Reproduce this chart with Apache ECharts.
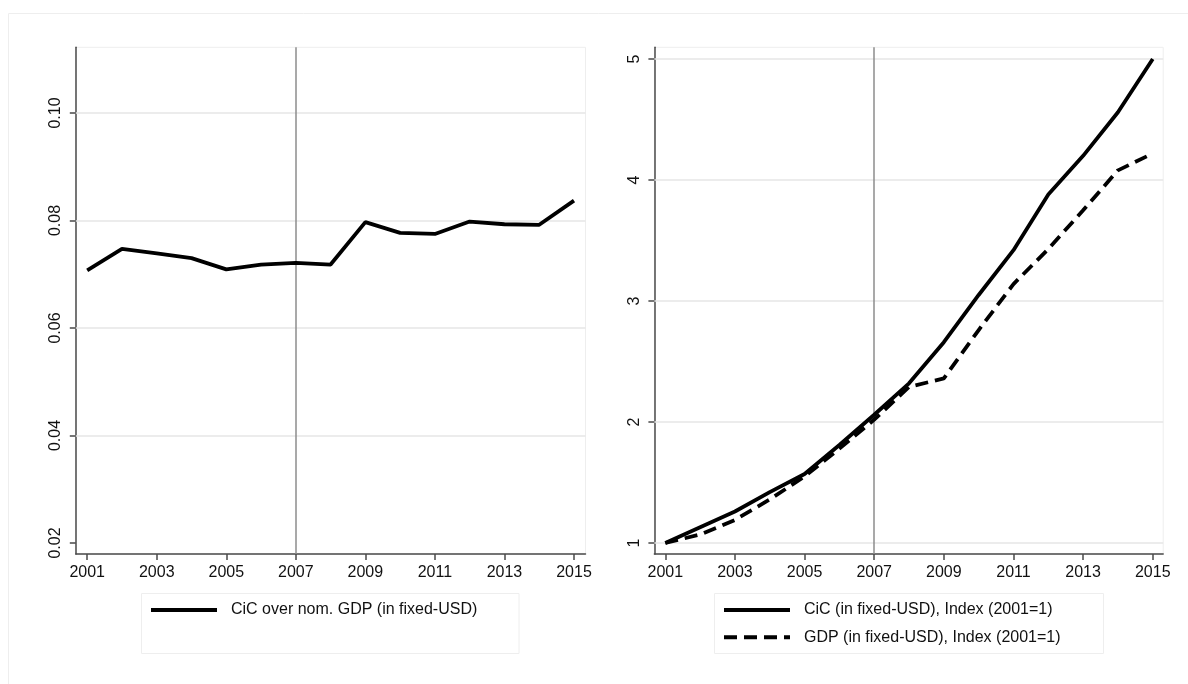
<!DOCTYPE html>
<html>
<head>
<meta charset="utf-8">
<script src="https://cdn.jsdelivr.net/npm/echarts@6/dist/echarts.min.js"></script>
<style>
  html, body { margin: 0; padding: 0; background: #ffffff; }
  #chart { width: 1188px; height: 684px; }
</style>
</head>
<body>
<div id="chart"></div>
<script>
// Years on the horizontal axis
const years = [2001, 2002, 2003, 2004, 2005, 2006, 2007, 2008, 2009, 2010, 2011, 2012, 2013, 2014, 2015];

// Left panel: currency in circulation relative to nominal GDP
const cicShare = [0.0707, 0.0747, 0.0739, 0.0730, 0.0709, 0.0718, 0.0721, 0.0718, 0.0797, 0.0777, 0.0775, 0.0798, 0.0793, 0.0792, 0.0837];

// Right panel: indices with 2001 = 1
const cicIndex = [1.00, 1.13, 1.26, 1.42, 1.57, 1.81, 2.06, 2.32, 2.66, 3.05, 3.42, 3.88, 4.20, 4.56, 5.00];
const gdpIndex = [1.00, 1.07, 1.19, 1.36, 1.55, 1.78, 2.02, 2.29, 2.36, 2.76, 3.14, 3.43, 3.75, 4.08, 4.22];

// Tick labels
const xTicks = [2001, 2003, 2005, 2007, 2009, 2011, 2013, 2015];
const leftYTicks = [0.02, 0.04, 0.06, 0.08, 0.10];
const rightYTicks = [1, 2, 3, 4, 5];
const leftGridLines = [0.04, 0.06, 0.08, 0.10];
const rightGridLines = [1, 2, 3, 4, 5];
const markYear = 2007;

// Legend labels
const nameShare = 'CiC over nom. GDP (in fixed-USD)';
const nameCic = 'CiC (in fixed-USD), Index (2001=1)';
const nameGdp = 'GDP (in fixed-USD), Index (2001=1)';

const FONT = "'Liberation Sans', Arial, Helvetica, sans-serif";
const AXIS_COLOR = '#4a4a4a';
const GRID_COLOR = '#e6e6e6';
const LINE_W = 3.8;

const pair = (xs, ys) => xs.map((x, i) => [x, ys[i]]);

function xAxisCfg(gridIndex, min, max) {
  return {
    type: 'value', gridIndex, min, max,
    axisLine: { show: true, lineStyle: { color: AXIS_COLOR, width: 1.5 } },
    axisTick: { show: true, customValues: xTicks, length: 6, lineStyle: { color: AXIS_COLOR, width: 1.5 } },
    axisLabel: { customValues: xTicks, formatter: v => String(v), color: '#111', fontSize: 16, fontFamily: FONT, margin: 11 },
    splitLine: { show: false }
  };
}

function yAxisCfg(gridIndex, min, max, ticks, fmt) {
  return {
    type: 'value', gridIndex, min, max,
    axisLine: { show: true, lineStyle: { color: AXIS_COLOR, width: 1.5 } },
    axisTick: { show: true, customValues: ticks, length: 6, lineStyle: { color: AXIS_COLOR, width: 1.5 } },
    axisLabel: { customValues: ticks, formatter: fmt, rotate: 90, color: '#111', fontSize: 16, fontFamily: FONT, margin: 12 },
    splitLine: { show: false }
  };
}

// Background guide lines (horizontal grid plus the 2007 marker) as a series without data
function guideSeries(axisIndex, gridValues) {
  return {
    type: 'line', xAxisIndex: axisIndex, yAxisIndex: axisIndex, data: [], z: 1, silent: true,
    markLine: {
      silent: true, symbol: 'none', label: { show: false }, animation: false,
      data: [
        ...gridValues.map(v => ({ yAxis: v, lineStyle: { color: GRID_COLOR, width: 1.5, type: 'solid' } })),
        { xAxis: markYear, lineStyle: { color: '#8c8c8c', width: 1.5, type: 'solid' } }
      ]
    }
  };
}

function legendCfg(names, left) {
  return {
    data: names, orient: 'vertical', left, top: 602, padding: 0,
    itemWidth: 66, itemHeight: 16, itemGap: 11.3,
    lineStyle: { width: 4 },
    // hide the marker that line legends draw in the middle of the sample
    itemStyle: { opacity: 0, color: 'rgba(0,0,0,0)', borderWidth: 0 },
    textStyle: { fontSize: 16, color: '#111', fontFamily: FONT, lineHeight: 16, padding: [0, 0, 0, 9] },
    selectedMode: false
  };
}

const chart = echarts.init(document.getElementById('chart'), null, { renderer: 'canvas' });

chart.setOption({
  backgroundColor: '#ffffff',
  animation: false,
  textStyle: { fontFamily: FONT },
  grid: [
    { left: 75.8, top: 47.3, width: 509.7, height: 506.7, show: true, borderColor: '#eeeeee', borderWidth: 1, backgroundColor: '#ffffff' },
    { left: 654.4, top: 47.3, width: 508.8, height: 506.7, show: true, borderColor: '#eeeeee', borderWidth: 1, backgroundColor: '#ffffff' }
  ],
  xAxis: [
    xAxisCfg(0, 2000.672, 2015.331),
    xAxisCfg(1, 2000.687, 2015.30)
  ],
  yAxis: [
    yAxisCfg(0, 0.01795, 0.11222, leftYTicks, v => v.toFixed(2)),
    yAxisCfg(1, 0.909, 5.097, rightYTicks, v => String(Math.round(v)))
  ],
  legend: [
    legendCfg([nameShare], 149),
    legendCfg([nameCic, nameGdp], 722)
  ],
  graphic: [
    // outer frame
    { type: 'rect', shape: { x: 8.5, y: 13.5, width: 1400, height: 800 }, style: { fill: 'none', stroke: '#eeeeee', lineWidth: 1 }, silent: true, z: -10 },
    // legend frames
    { type: 'rect', shape: { x: 141.5, y: 593.5, width: 377.5, height: 60 }, style: { fill: 'none', stroke: '#eeeeee', lineWidth: 1 }, silent: true },
    { type: 'rect', shape: { x: 714.5, y: 593.5, width: 389, height: 60 }, style: { fill: 'none', stroke: '#eeeeee', lineWidth: 1 }, silent: true }
  ],
  series: [
    guideSeries(0, leftGridLines),
    guideSeries(1, rightGridLines),
    {
      name: nameShare, type: 'line', xAxisIndex: 0, yAxisIndex: 0, z: 5,
      data: pair(years, cicShare), showSymbol: false, symbol: 'none',
      lineStyle: { color: '#000', width: LINE_W }, itemStyle: { color: '#000' }
    },
    {
      name: nameCic, type: 'line', xAxisIndex: 1, yAxisIndex: 1, z: 5,
      data: pair(years, cicIndex), showSymbol: false, symbol: 'none',
      lineStyle: { color: '#000', width: LINE_W }, itemStyle: { color: '#000' }
    },
    {
      name: nameGdp, type: 'line', xAxisIndex: 1, yAxisIndex: 1, z: 5,
      data: pair(years, gdpIndex), showSymbol: false, symbol: 'none',
      lineStyle: { color: '#000', width: LINE_W, type: [13, 7] }, itemStyle: { color: '#000' }
    }
  ]
});
</script>
</body>
</html>
